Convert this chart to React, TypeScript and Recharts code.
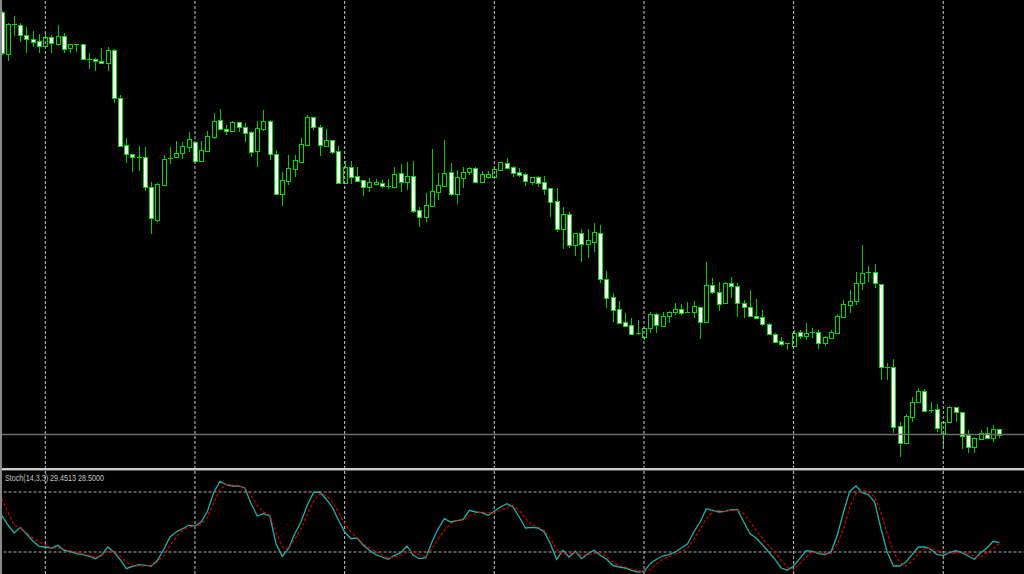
import React from 'react';
import { ComposedChart, Bar, Line, XAxis, YAxis, ReferenceLine } from 'recharts';

// Prices (chart points)
const candleOpen = [
  488, 446, 476, 475, 465, 461, 459, 454, 463, 456,
  464, 452, 456, 456, 441, 441, 439, 437, 450, 402,
  355, 346, 343, 343, 313, 280, 315, 342, 343, 347,
  353, 358, 339, 349, 363, 380, 371, 369, 378, 373,
  368, 349, 371, 379, 346, 306, 319, 331, 338, 355,
  383, 373, 354, 360, 349, 317, 333, 324, 320, 313,
  316, 317, 314, 313, 327, 318, 324, 290, 283, 294,
  308, 314, 328, 306, 322, 328, 332, 318, 323, 323,
  330, 337, 333, 328, 326, 318, 323, 318, 312, 299,
  271, 286, 255, 267, 256, 258, 267, 221, 203, 191,
  178, 175, 167, 163, 172, 186, 174, 184, 188, 191,
  188, 188, 193, 178, 215, 208, 197, 217, 214, 197,
  193, 184, 183, 176, 166, 159, 157, 154, 168, 164,
  168, 168, 157, 162, 167, 183, 195, 199, 217, 228,
  228, 216, 133, 133, 74, 57, 83, 98, 109, 90,
  91, 67, 78, 93, 88, 65, 53, 61, 67, 62,
  71,
];
const candleHigh = [
  489, 477, 484, 477, 473, 469, 466, 467, 465, 475,
  467, 456, 456, 456, 447, 442, 452, 453, 451, 405,
  362, 346, 354, 353, 318, 317, 345, 353, 359, 358,
  368, 358, 359, 369, 387, 391, 375, 379, 378, 377,
  369, 379, 390, 380, 350, 328, 345, 345, 362, 385,
  383, 375, 371, 360, 354, 339, 339, 333, 320, 322,
  321, 320, 321, 333, 336, 338, 339, 293, 307, 351,
  327, 360, 337, 330, 333, 333, 333, 329, 329, 333,
  338, 342, 334, 332, 327, 323, 324, 324, 312, 312,
  293, 288, 267, 271, 271, 277, 275, 229, 207, 199,
  187, 182, 180, 173, 188, 187, 188, 189, 197, 196,
  198, 199, 193, 238, 222, 218, 218, 223, 217, 200,
  210, 201, 190, 177, 167, 163, 157, 170, 170, 177,
  172, 170, 164, 170, 186, 200, 210, 228, 255, 234,
  236, 216, 137, 141, 78, 86, 103, 112, 111, 98,
  96, 79, 94, 93, 88, 70, 63, 70, 73, 75,
  71,
];
const candleLow = [
  445, 439, 464, 458, 447, 453, 447, 454, 447, 454,
  447, 447, 448, 440, 431, 429, 437, 429, 397, 353,
  337, 328, 329, 309, 266, 278, 314, 336, 342, 341,
  348, 337, 339, 349, 361, 370, 365, 369, 368, 358,
  343, 333, 369, 340, 305, 294, 315, 323, 337, 355,
  370, 344, 353, 346, 316, 316, 316, 318, 304, 308,
  316, 312, 311, 313, 308, 310, 287, 273, 278, 293,
  300, 313, 304, 296, 312, 325, 317, 317, 321, 322,
  329, 331, 323, 323, 314, 315, 313, 305, 283, 268,
  251, 252, 244, 238, 242, 248, 217, 192, 178, 176,
  173, 165, 165, 160, 167, 167, 173, 177, 185, 185,
  187, 182, 161, 177, 206, 189, 196, 202, 183, 182,
  183, 181, 174, 165, 157, 154, 150, 153, 161, 160,
  162, 151, 154, 161, 167, 182, 187, 195, 210, 218,
  212, 120, 120, 67, 43, 57, 78, 98, 88, 87,
  68, 53, 78, 78, 51, 47, 47, 60, 61, 58,
  62,
];
const candleClose = [
  447, 476, 475, 465, 461, 458, 454, 463, 457, 464,
  451, 456, 455.5, 441, 441, 439, 437, 450, 402, 354,
  346, 343, 343, 313, 282, 316, 341, 342, 347, 354,
  361, 339, 350, 364, 379, 371, 369, 378, 373, 367,
  348, 372, 379, 346, 306, 320, 332, 340, 356, 383,
  373, 355, 360, 348, 317, 333, 323, 319, 313, 318,
  318, 314, 314, 326, 318, 324, 289, 283, 295, 309,
  315, 327, 306, 323, 328, 332, 318, 326, 326, 331,
  338, 332, 327, 325, 319, 323, 317, 311, 298, 271,
  286, 255, 267, 256, 260, 268, 221, 202, 190, 177,
  174, 166, 167, 172, 186, 175, 184, 188, 191, 187,
  188, 194, 178, 215, 208, 196, 217, 214, 197, 193,
  184, 182, 176, 166, 158, 156, 157, 167, 164, 167,
  168, 157, 163, 168, 184, 196, 199, 217, 227, 228,
  217, 133, 133, 73, 57, 84, 98, 109, 89, 90,
  72, 78, 93, 88, 64, 53, 62, 67, 62, 71,
  65,
];

// Stochastic(14,3,3)
const stochK = [
  56.7, 47, 39, 44.7, 38, 31, 25.7, 25, 24, 26.7,
  21.7, 20.7, 18.3, 17.3, 16, 13.3, 16.7, 25, 20, 12.7,
  3.3, 5.7, 7.3, 6.7, 6, 11.7, 22.7, 35, 40, 43.3,
  46.7, 46, 50, 60.7, 79.3, 90.7, 87.3, 86, 86, 84,
  68.3, 56, 58.3, 56, 28.3, 15.7, 23.3, 38.3, 50, 66.7,
  79.3, 80, 73.3, 65, 52, 40, 33.3, 34, 26.7, 21.7,
  17.3, 15, 12.7, 16.7, 19.3, 26, 16.7, 13.3, 14, 30,
  43.3, 53.3, 50, 51.3, 52.3, 61.7, 60, 59.3, 56.7, 60.7,
  65, 68.3, 65, 55, 44, 44.7, 44, 40, 28.3, 12.7,
  21.7, 15, 20.7, 13.3, 18.3, 21.7, 16.7, 12.7, 6.7, 5,
  4, 1.7, 0, 0.7, 8.3, 12.7, 16, 17.3, 20, 24,
  28.3, 40, 50, 63.3, 61.7, 60, 60.7, 62.3, 62.3, 50,
  38.3, 34, 27.3, 20, 12.7, 4, 1.7, 6, 13.3, 21.3,
  20.7, 18.3, 17.3, 20, 36.7, 60, 80.7, 86, 79.3, 77.3,
  70, 43.3, 20, 6, 6, 10, 17.3, 25, 25, 22.7,
  17.3, 16.7, 19.3, 21.3, 19.3, 16, 12.7, 19.3, 24, 30.7,
  29.4513,
];
const stochD = [
  73.3, 60, 46.7, 44, 39.3, 34, 30, 27.3, 24, 24,
  22.7, 21.3, 20, 18.3, 16.7, 14.7, 16.7, 20.7, 20, 16,
  10, 6.7, 6, 6, 6.7, 10, 16.7, 26.7, 35, 41.7,
  45, 45.7, 47.3, 55, 69.3, 82.7, 87.3, 86.7, 86, 84,
  76.7, 66, 60, 56.7, 40, 25, 23.3, 32.7, 43.3, 57.3,
  70.7, 78.3, 76.7, 70.7, 60, 48.3, 40, 34, 28.3, 24,
  20, 17.3, 14, 15, 16.7, 20, 20.7, 17.3, 15, 23.3,
  33.3, 41.7, 48.3, 51, 51.7, 56, 58.3, 60, 59.3, 59.3,
  61.7, 64, 66.7, 61.7, 53.3, 47.3, 45, 41.7, 33.3, 22.7,
  17.3, 18.3, 19.3, 16.7, 17.3, 18.3, 19.3, 15, 10, 6.7,
  5, 2.7, 1.7, 0, 2.7, 8.3, 12.7, 15, 18, 20.7,
  24, 32.7, 43.3, 53.3, 60, 61.7, 60.7, 61.7, 61.7, 58.3,
  50, 41.7, 33.3, 26.7, 20, 11.7, 5, 2.7, 8.3, 15,
  20, 20, 18.3, 18.3, 28.3, 43.3, 65, 78.3, 81.7, 80,
  75, 60, 38.3, 20, 10, 6, 10.7, 18.3, 23.3, 24,
  21.7, 18.3, 18.3, 19.3, 20, 18.3, 16, 15, 19.3, 23.3,
  28.5,
];

const gridBars = [7, 31, 55, 79, 103, 127, 151];
const stochLevels = [80, 20];
const priceLine = 65.5;
const emptyBarsRight = 4;
const stochLabel = 'Stoch(14,3,3) 29.4513 28.5000';

const rows: any[] = [];
for (let i = 0; i < candleOpen.length + emptyBarsRight; i++) {
  if (i < candleOpen.length) {
    rows.push({
      i,
      open: candleOpen[i],
      high: candleHigh[i],
      low: candleLow[i],
      close: candleClose[i],
      range: [candleLow[i], candleHigh[i]],
      k: stochK[i],
      d: stochD[i],
    });
  } else {
    rows.push({ i });
  }
}

const WICK = '#00cc00';
const EDGE = '#00dd00';

function Candle(props: any) {
  const { x, y, width, height, payload } = props;
  if (!payload || payload.high == null) return null;
  const top = Math.min(y, y + height);
  const bot = Math.max(y, y + height);
  const span = payload.high - payload.low;
  const k = span > 0 ? (bot - top) / span : 0;
  const py = (v: number) => top + (payload.high - v) * k;
  const X = Math.round(x + width / 2);
  const yo = py(payload.open);
  const yc = py(payload.close);
  const bt = Math.round(Math.min(yo, yc));
  const bb = Math.round(Math.max(yo, yc));
  const bull = payload.close > payload.open;
  return (
    <g>
      <line x1={X + 0.5} x2={X + 0.5} y1={top} y2={bot} stroke={WICK} strokeWidth={1} />
      {bb - bt < 2 ? (
        <line x1={X - 2} x2={X + 3} y1={bt + 0.5} y2={bt + 0.5} stroke={EDGE} strokeWidth={1} />
      ) : (
        <rect
          x={X - 1.5}
          y={bt + 0.5}
          width={4}
          height={bb - bt}
          fill={bull ? '#000000' : '#ffffff'}
          stroke={EDGE}
          strokeWidth={1}
        />
      )}
    </g>
  );
}

export default function App() {
  const W = 1024;
  const H = 574;
  const band = 6.236;
  const left = 1.65 - band / 2;
  const plotW = band * rows.length;
  const right = W - left - plotW;
  return (
    <div style={{ position: 'absolute', left: 0, top: 0, width: W, height: H, background: '#000', overflow: 'hidden' }}>
      <ComposedChart
        width={W}
        height={H}
        data={rows}
        margin={{ top: 0, right, bottom: 0, left }}
        barCategoryGap={0}
      >
        <XAxis dataKey="i" type="category" scale="band" hide />
        <YAxis yAxisId="price" type="number" domain={[-74, 500]} hide allowDataOverflow />
        <YAxis yAxisId="stoch" type="number" domain={[-2, 572]} hide allowDataOverflow />
        {gridBars.map((g) => (
          <ReferenceLine key={'g' + g} x={g} yAxisId="price" stroke="#c8c8c8" strokeDasharray="3 2" strokeWidth={1} />
        ))}
        <ReferenceLine y={priceLine} yAxisId="price" stroke="#6e6e6e" strokeWidth={1.5} />
        {stochLevels.map((v) => (
          <ReferenceLine key={'l' + v} y={v} yAxisId="stoch" stroke="#b0b0b0" strokeDasharray="3 2" strokeWidth={1} />
        ))}
        <Bar yAxisId="price" dataKey="range" shape={Candle} isAnimationActive={false} />
        <Line yAxisId="stoch" dataKey="k" stroke="#20b2aa" strokeWidth={1.3} dot={false} isAnimationActive={false} />
        <Line yAxisId="stoch" dataKey="d" stroke="#e00000" strokeWidth={1.1} strokeDasharray="3 2" dot={false} isAnimationActive={false} />
      </ComposedChart>
      <div style={{ position: 'absolute', left: 0, top: 468, width: W, height: 2, background: '#c8c8c8' }} />
      <div style={{ position: 'absolute', left: 0, top: 470, width: W, height: 1, background: '#5a5a5a' }} />
      <div style={{ position: 'absolute', left: 0, top: 0, width: 2, height: H, background: '#8a8a8a' }} />
      <svg style={{ position: 'absolute', left: 0, top: 470 }} width={200} height={16}>
        <text x={5} y={10.5} fill="#c8c8c8" fontSize={8.5} fontFamily="Liberation Sans, Arial, sans-serif" textLength={99} lengthAdjust="spacingAndGlyphs">
          {stochLabel}
        </text>
      </svg>
    </div>
  );
}
